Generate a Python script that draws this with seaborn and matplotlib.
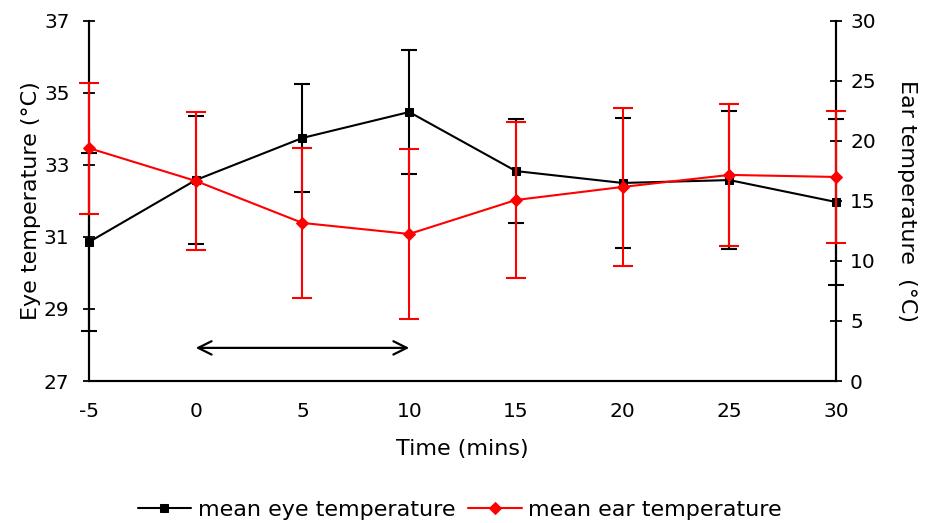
import matplotlib
matplotlib.use("Agg")
import matplotlib.pyplot as plt
import seaborn as sns
import pandas as pd

time = [-5, 0, 5, 10, 15, 20, 25, 30]
eye_mean = [30.86, 32.58, 33.75, 34.47, 32.83, 32.5, 32.58, 31.97]
eye_err = [2.47, 1.78, 1.49, 1.72, 1.44, 1.8, 1.92, 2.3]
ear_mean = [19.4, 16.67, 13.17, 12.25, 15.08, 16.17, 17.17, 17.0]
ear_err = [5.45, 5.75, 6.25, 7.08, 6.46, 6.6, 5.9, 5.5]
x_ticks = [-5, 0, 5, 10, 15, 20, 25, 30]
eye_ticks = [27, 29, 31, 33, 35, 37]
ear_ticks = [0, 5, 10, 15, 20, 25, 30]

sns.set_theme(style="white")
plt.rcParams['font.family'] = ['DejaVu Sans']
plt.rcParams['text.color'] = 'black'

df = pd.DataFrame({"time": time, "eye": eye_mean, "ear": ear_mean})

fig = plt.figure(figsize=(9.27, 5.23), dpi=100)
ax = fig.add_axes([0.096, 0.2715, 0.806, 0.6885])
ax2 = ax.twinx()

eb1 = ax.errorbar(time, eye_mean, yerr=eye_err, fmt='none', ecolor='black',
                  elinewidth=1.5, capsize=6, capthick=1.5, zorder=3)
sns.lineplot(data=df, x="time", y="eye", ax=ax, color='black', lw=1.5,
             marker='s', markersize=6, markeredgecolor='black',
             label='mean eye temperature', legend=False, zorder=4)

eb2 = ax2.errorbar(time, ear_mean, yerr=ear_err, fmt='none', ecolor='#ff0000',
                   elinewidth=1.5, capsize=7, capthick=1.5, zorder=3)
sns.lineplot(data=df, x="time", y="ear", ax=ax2, color='#ff0000', lw=1.5,
             marker='D', markersize=6.5, markeredgecolor='#ff0000',
             label='mean ear temperature', legend=False, zorder=4)

for eb in (eb1, eb2):
    for art in eb.lines[1]:
        art.set_clip_on(False)
    for art in eb.lines[2]:
        art.set_clip_on(False)
for a in (ax, ax2):
    for ln in a.lines:
        ln.set_clip_on(False)

ax.annotate('', xy=(0, 27.92), xytext=(10, 27.92),
            arrowprops=dict(arrowstyle='<->', lw=1.6, color='black',
                            mutation_scale=24, shrinkA=0, shrinkB=0))

ax.set_xlim(-5, 30)
ax.set_ylim(27, 37)
ax2.set_ylim(0, 30)
ax.set_xticks(x_ticks)
ax.set_xticklabels([str(t) for t in x_ticks])
ax.set_yticks(eye_ticks)
ax2.set_yticks(ear_ticks)

fs = 14.5
lfs = 16
ax.set_xlabel("Time (mins)", fontsize=lfs, labelpad=13, color='black')
ax.set_ylabel("Eye temperature (°C)", fontsize=lfs, labelpad=2, color='black')
ax2.set_ylabel("Ear temperature  (°C)", fontsize=lfs, rotation=270,
               labelpad=30, color='black')

for a in (ax, ax2):
    a.grid(False)
    for s in a.spines.values():
        s.set_color('black')
        s.set_linewidth(1.5)
    a.spines['top'].set_visible(False)
    a.tick_params(direction='inout', length=8, width=1.3, colors='black',
                  labelsize=fs, labelcolor='black')
ax.tick_params(axis='x', pad=11)
ax.tick_params(axis='y', left=True, pad=10)
ax2.tick_params(axis='y', right=True, pad=6)

h1, l1 = ax.get_legend_handles_labels()
h2, l2 = ax2.get_legend_handles_labels()
fig.legend(h1 + h2, l1 + l2, loc='lower center', bbox_to_anchor=(0.496, -0.032),
           ncol=2, frameon=False, fontsize=lfs, handlelength=2.4,
           handletextpad=0.3, columnspacing=0.6, labelcolor='black')

fig.savefig("out.png", dpi=100, facecolor='white')
